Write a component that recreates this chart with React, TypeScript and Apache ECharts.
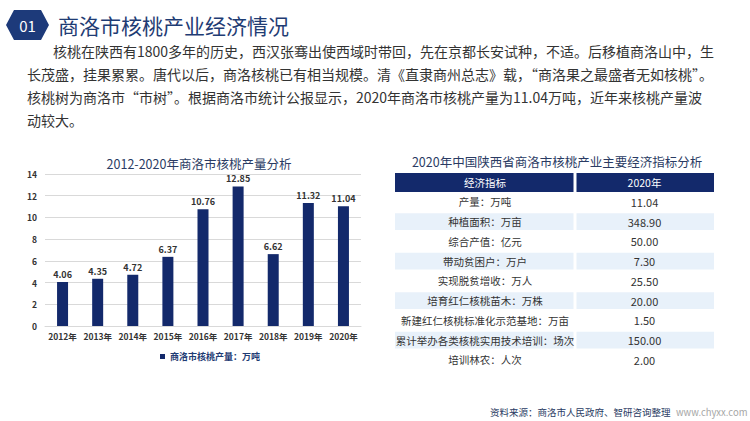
import React, { useEffect, useRef } from "react";
import * as echarts from "echarts";

const years = ["2012年", "2013年", "2014年", "2015年", "2016年", "2017年", "2018年", "2019年", "2020年"];
const output = [4.06, 4.35, 4.72, 6.37, 10.76, 12.85, 6.62, 11.32, 11.04];
const seriesName = "商洛市核桃产量：万吨";
const chartTitle = "2012-2020年商洛市核桃产量分析";

const tableTitle = "2020年中国陕西省商洛市核桃产业主要经济指标分析";
const tableHeader = ["经济指标", "2020年"];
const indicators = [
  "产量：万吨",
  "种植面积：万亩",
  "综合产值：亿元",
  "带动贫困户：万户",
  "实现脱贫增收：万人",
  "培育红仁核桃苗木：万株",
  "新建红仁核桃标准化示范基地：万亩",
  "累计举办各类核桃实用技术培训：场次",
  "培训林农：人次",
];
const values2020 = ["11.04", "348.90", "50.00", "7.30", "25.50", "20.00", "1.50", "150.00", "2.00"];

const pageTitle = "商洛市核桃产业经济情况";
const badge = "01";
const paragraph = [
  "核桃在陕西有1800多年的历史，西汉张骞出使西域时带回，先在京都长安试种，不适。后移植商洛山中，生",
  "长茂盛，挂果累累。唐代以后，商洛核桃已有相当规模。清《直隶商州总志》载，“商洛果之最盛者无如核桃”。",
  "核桃树为商洛市“市树”。根据商洛市统计公报显示，2020年商洛市核桃产量为11.04万吨，近年来核桃产量波",
  "动较大。",
];
const source = "资料来源：商洛市人民政府、智研咨询整理";
const site = "www.chyxx.com";

const FONT = '"Noto Sans CJK SC", "Noto Sans", sans-serif';
const NAVY = "#13296b";

export default function App() {
  const ref = useRef<HTMLDivElement>(null);
  useEffect(() => {
    document.body.style.margin = "0";
    const chart = echarts.init(ref.current!, undefined, { renderer: "svg" });

    const graphics: any[] = [];
    // badge
    graphics.push({
      type: "polygon",
      shape: { points: [[6, 25], [14, 10], [41, 10], [49, 25], [41, 40], [14, 40]] },
      style: { fill: "#1d3a7a" },
    });
    graphics.push({
      type: "text",
      x: 27.5,
      y: 25,
      style: { text: badge, fill: "#fff", font: `15px ${FONT}`, align: "center", verticalAlign: "middle" },
    });
    graphics.push({
      type: "text",
      x: 58,
      y: 25,
      style: { text: pageTitle, fill: "#1f3c74", font: `21px ${FONT}`, verticalAlign: "middle" },
    });
    // paragraph
    paragraph.forEach((line, i) => {
      graphics.push({
        type: "text",
        x: i === 0 ? 53 : 27,
        y: 51 + i * 23,
        style: { text: line, fill: "#333333", font: `14px ${FONT}`, verticalAlign: "middle" },
      });
    });
    // table
    const tx0 = 395, tsplit = 575, tx1 = 714, gap = 1.5;
    const headTop = 173, headH = 19, rowH = 19.75;
    graphics.push({
      type: "text",
      x: 557,
      y: 161,
      style: { text: tableTitle, fill: "#2a3b63", font: `12.5px ${FONT}`, align: "center", verticalAlign: "middle" },
    });
    graphics.push({ type: "rect", shape: { x: tx0, y: headTop, width: tsplit - gap - tx0, height: headH }, style: { fill: NAVY } });
    graphics.push({ type: "rect", shape: { x: tsplit + gap, y: headTop, width: tx1 - tsplit - gap, height: headH }, style: { fill: NAVY } });
    graphics.push({
      type: "text", x: (tx0 + tsplit) / 2, y: headTop + headH / 2,
      style: { text: tableHeader[0], fill: "#fff", font: `10.5px ${FONT}`, align: "center", verticalAlign: "middle" },
    });
    graphics.push({
      type: "text", x: (tsplit + tx1) / 2, y: headTop + headH / 2,
      style: { text: tableHeader[1], fill: "#fff", font: `10.5px ${FONT}`, align: "center", verticalAlign: "middle" },
    });
    const bodyTop = headTop + headH;
    indicators.forEach((name, i) => {
      const top = bodyTop + i * rowH;
      if (i % 2 === 1) {
        graphics.push({ type: "rect", shape: { x: tx0, y: top + 1.5, width: tsplit - gap - tx0, height: rowH - 3 }, style: { fill: "#e8f1fa" } });
        graphics.push({ type: "rect", shape: { x: tsplit + gap, y: top + 1.5, width: tx1 - tsplit - gap, height: rowH - 3 }, style: { fill: "#e8f1fa" } });
      }
      graphics.push({
        type: "text", x: (tx0 + tsplit) / 2, y: top + rowH / 2,
        style: { text: name, fill: "#333", font: `10.5px ${FONT}`, align: "center", verticalAlign: "middle" },
      });
      graphics.push({
        type: "text", x: (tsplit + tx1) / 2, y: top + rowH / 2,
        style: { text: values2020[i], fill: "#333", font: `11px ${FONT}`, align: "center", verticalAlign: "middle" },
      });
    });
    // footer
    graphics.push({
      type: "text", x: 490, y: 412,
      style: { text: source, fill: "#2a3b63", font: `9.5px ${FONT}`, verticalAlign: "middle" },
    });
    graphics.push({
      type: "text", x: 676, y: 412,
      style: { text: site, fill: "#a6a6a6", font: `9.5px ${FONT}`, verticalAlign: "middle" },
    });

    chart.setOption({
      animation: false,
      backgroundColor: "#ffffff",
      title: {
        text: chartTitle,
        left: 194,
        top: 152,
        textAlign: "center",
        textStyle: { fontFamily: FONT, fontSize: 12.5, fontWeight: "normal", color: "#2a3b63" },
      },
      grid: { left: 45, right: 389, top: 174, bottom: 95, containLabel: false },
      legend: {
        data: [seriesName],
        left: 155,
        top: 347,
        icon: "rect",
        itemWidth: 5,
        itemHeight: 5,
        itemGap: 4,
        textStyle: { fontFamily: FONT, fontSize: 9, color: "#1f3c74", fontWeight: "bold" },
      },
      xAxis: {
        type: "category",
        data: years,
        axisTick: { show: false },
        axisLine: { lineStyle: { color: "#d9d9d9" } },
        axisLabel: { interval: 0, fontFamily: FONT, fontSize: 8.5, color: "#333", fontWeight: "bold", margin: 6 },
      },
      yAxis: {
        type: "value",
        min: 0,
        max: 14,
        interval: 2,
        axisLine: { show: false },
        axisTick: { show: false },
        splitLine: { lineStyle: { color: "#d9d9d9" } },
        axisLabel: { fontFamily: FONT, fontSize: 8.5, color: "#333", fontWeight: "bold", margin: 8 },
      },
      series: [
        {
          name: seriesName,
          type: "bar",
          data: output,
          barWidth: 11,
          itemStyle: { color: NAVY },
          label: {
            show: true,
            position: "top",
            distance: 3,
            fontFamily: FONT,
            fontSize: 9,
            color: "#333",
            fontWeight: "bold",
            formatter: (p: any) => p.value.toFixed(2),
          },
        },
      ],
      graphic: graphics,
    });
    return () => chart.dispose();
  }, []);
  return <div ref={ref} style={{ width: 750, height: 421 }} />;
}
